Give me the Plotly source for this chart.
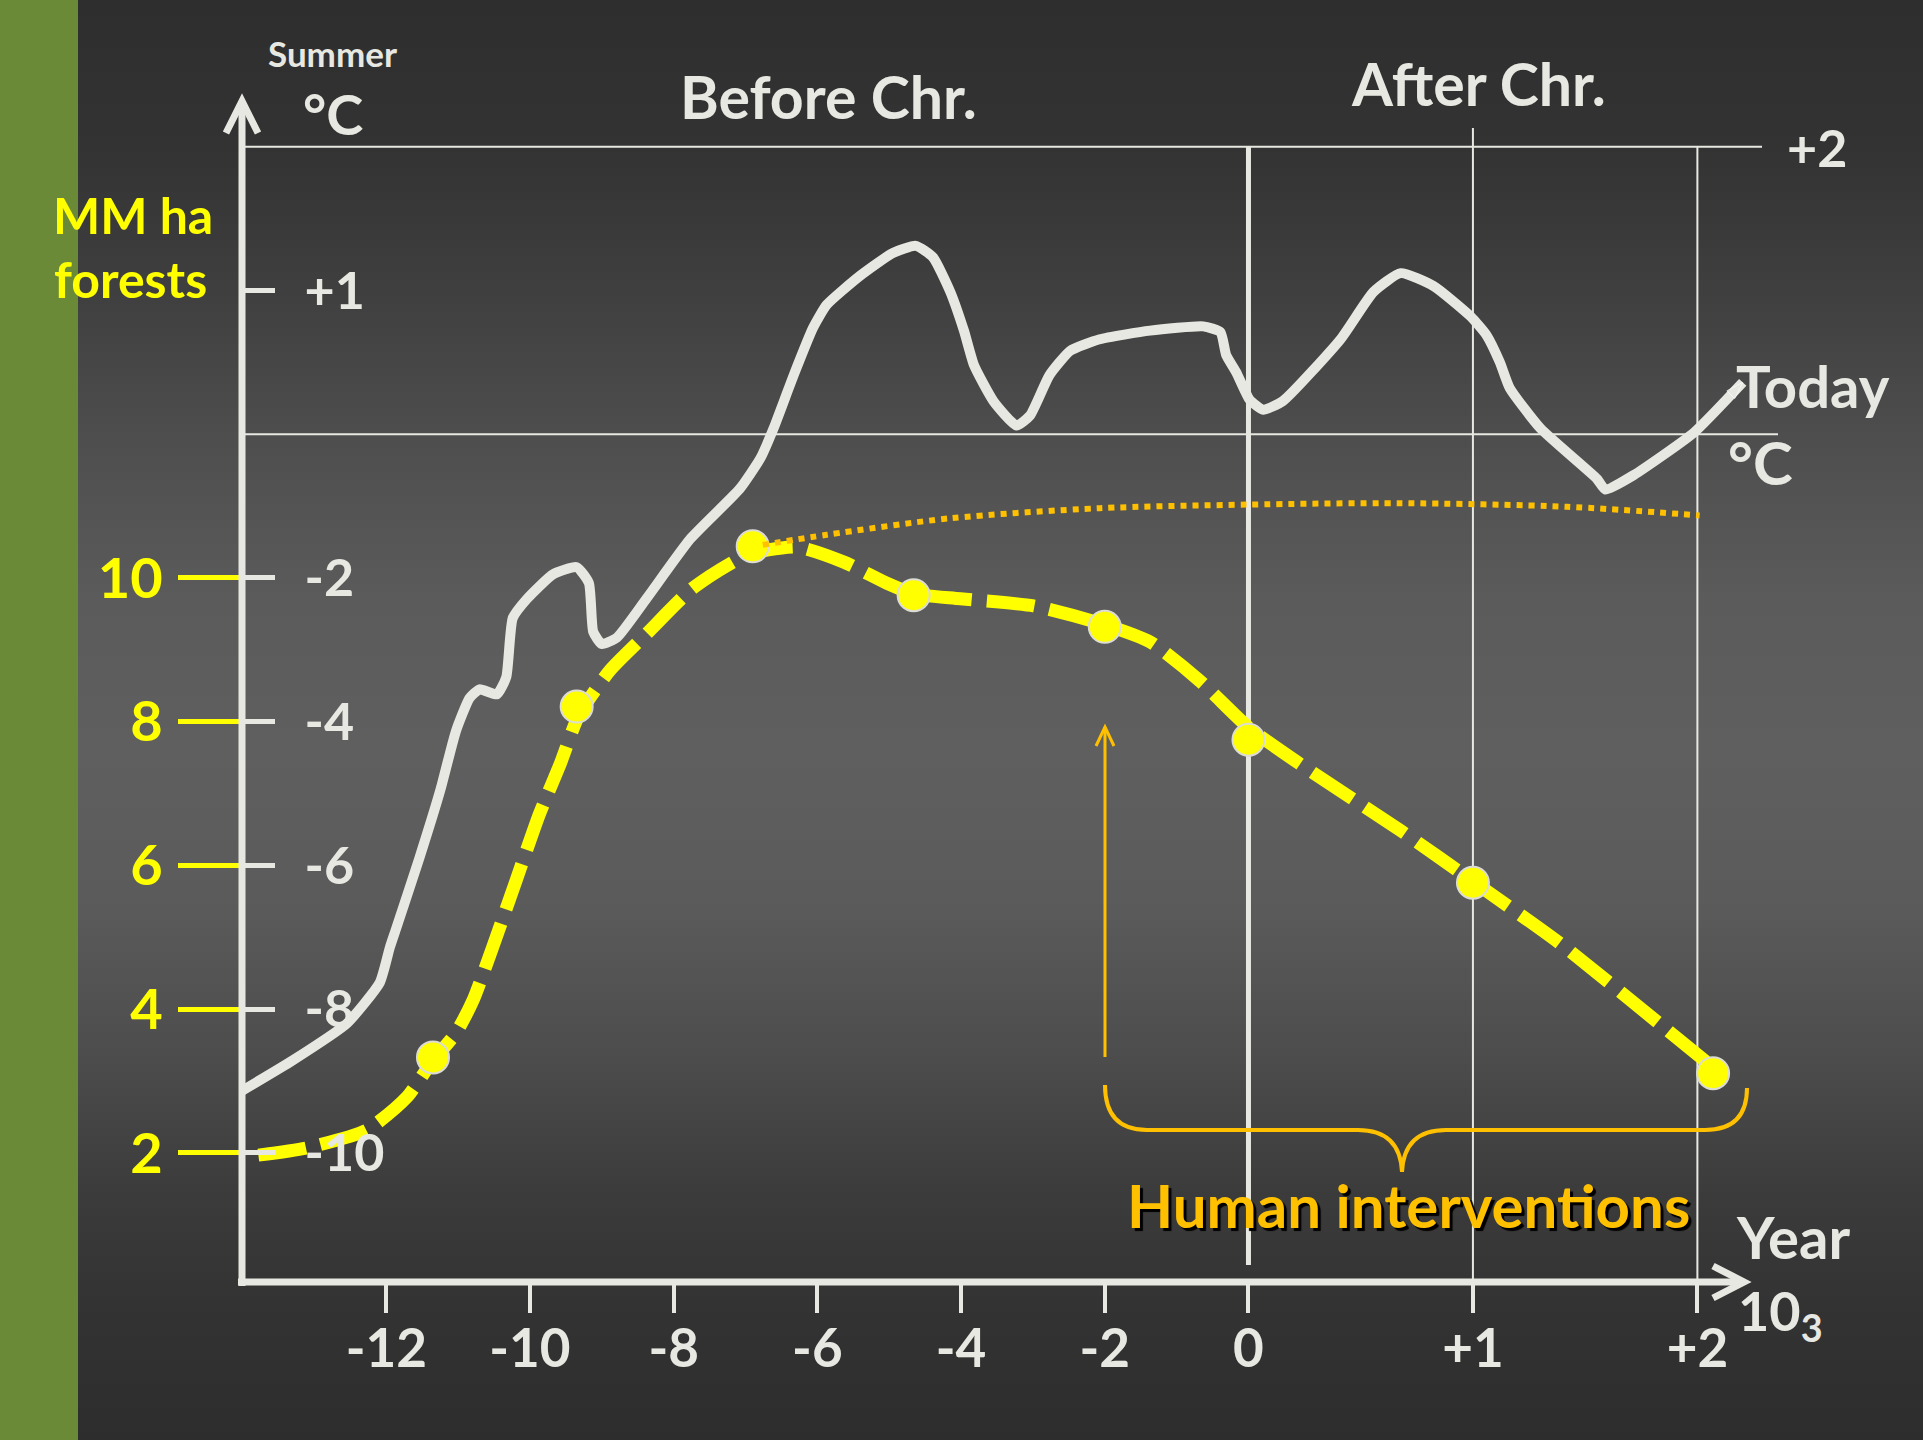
import numpy as np
import plotly.graph_objects as go

W, H = 1923, 1440

# ---------------- data ----------------
YEAR_TICKS = [-12, -10, -8, -6, -4, -2, 0, 1, 2]          # thousand years (negative = before Chr.)
YEAR_TICK_TEXT = ["-12", "-10", "-8", "-6", "-4", "-2", "0", "+1", "+2"]
FOREST_TICKS = [2, 4, 6, 8, 10]                            # million ha of forest
FOREST_TICK_TEXT = ["2", "4", "6", "8", "10"]
TEMP_TICKS = [1, -2, -4, -6, -8, -10]                      # summer temperature, °C
TEMP_TICK_TEXT = ["+1", "-2", "-4", "-6", "-8", "-10"]

# summer temperature curve
temp_ka = [-14.00, -13.30, -12.55, -12.09, -11.95, -11.86, -11.54, -11.25, -11.03, -10.84,
           -10.70, -10.46, -10.33, -10.24, -10.04, -9.68, -9.35, -9.18, -9.12, -9.00,
           -8.79, -8.38, -7.77, -7.08, -6.79, -6.61, -6.33, -6.06, -5.87, -5.41,
           -4.95, -4.63, -4.39, -4.15, -3.96, -3.82, -3.55, -3.23, -3.04, -2.77,
           -2.48, -2.07, -1.37, -0.63, -0.39, -0.31, -0.17, 0.005, 0.066, 0.153,
           0.410, 0.557, 0.678, 0.825, 0.989, 1.060, 1.120, 1.164, 1.301, 1.552,
           1.590, 1.716, 1.984, 2.202]
temp_c = [-9.13, -8.71, -8.20, -7.63, -7.14, -6.87, -5.90, -4.96, -4.13, -3.67,
          -3.55, -3.62, -3.38, -2.56, -2.29, -1.95, -1.85, -2.07, -2.75, -2.92,
          -2.83, -2.29, -1.46, -0.76, -0.33, 0.04, 0.41, 0.74, 0.90, 1.10,
          1.26, 1.31, 1.23, 0.99, 0.72, 0.48, 0.23, 0.06, 0.13, 0.41,
          0.58, 0.66, 0.72, 0.75, 0.71, 0.55, 0.43, 0.24, 0.17, 0.23,
          0.66, 0.99, 1.12, 1.03, 0.82, 0.69, 0.50, 0.32, 0.04, -0.62,
          -0.77, -0.57, 0.01, 0.36]

# forest area curve (dashed)
forest_ka = [-13.78, -13.11, -12.27, -11.71, -11.37, -11.03, -10.79, -10.52, -10.19, -9.87,
             -9.58, -9.32, -8.89, -8.38, -7.73, -6.98, -6.28, -5.63, -5.04, -4.66,
             -4.01, -2.99, -2.00, -1.37, -0.68, 0.00, 0.23, 0.68, 1.00, 1.39,
             1.85, 2.07]
forest_mha = [1.97, 2.07, 2.32, 2.78, 3.26, 3.67, 4.13, 4.86, 5.80, 6.71,
              7.41, 8.09, 8.71, 9.22, 9.86, 10.32, 10.43, 10.22, 9.93, 9.78,
              9.71, 9.61, 9.35, 9.11, 8.57, 7.92, 7.41, 6.48, 5.78, 4.91,
              3.75, 3.19]

# sampled points on the forest curve
site_ka = [-11.35, -9.35, -6.90, -4.66, -2.00, 0.00, 1.00, 2.07]
site_mha = [3.33, 8.21, 10.44, 9.76, 9.32, 7.75, 5.76, 3.11]

# potential forest without human interventions (dotted)
potential_ka = [-6.76, -5.87, -4.15, -2.07, -0.02, 0.68, 1.42, 2.01]
potential_mha = [10.46, 10.60, 10.83, 10.97, 11.02, 11.04, 10.99, 10.87]

# ---------------- the chart's own (piece-wise) scales ----------------
AFTER_STRETCH = 3.124          # the A.D. part of the time axis is drawn wider


def year_axis(ka):
    ka = np.asarray(ka, dtype=float)
    return np.where(ka <= 0, ka, ka * AFTER_STRETCH)


def temp_axis(t):
    # below 0 °C one degree equals one forest unit, above 0 °C two units; 0 °C sits at 12
    t = np.asarray(t, dtype=float)
    return np.where(t <= 0, t + 12.0, 12.0 + 2.0 * t)


X_RANGE = [-17.376, 9.388]
Y_RANGE = [-1.993, 18.04]

WHITE = "#E8E8E2"
YELLOW = "#FFFF00"
ORANGE = "#FFC000"
NORMAL = "Lato, 'Open Sans', sans-serif"


def px(x, y):
    """pixel position -> paper fraction"""
    return x / W, 1 - y / H


def path_px(cmds):
    out = []
    for c in cmds:
        if isinstance(c, str):
            out.append(c)
        else:
            fx, fy = px(*c)
            out.append(f"{fx:.5f},{fy:.5f}")
    return " ".join(out)


def xdata(pxx):
    return X_RANGE[0] + pxx / W * (X_RANGE[1] - X_RANGE[0])


def ydata(pyy):
    return Y_RANGE[1] - pyy / H * (Y_RANGE[1] - Y_RANGE[0])


fig = go.Figure()

fig.add_trace(go.Scatter(
    x=year_axis(forest_ka), y=forest_mha, mode="lines", yaxis="y",
    line=dict(color=YELLOW, width=13, dash="48px,15px", shape="spline", smoothing=0.6),
    hoverinfo="skip"))
fig.add_trace(go.Scatter(
    x=year_axis(site_ka), y=site_mha, mode="markers", yaxis="y",
    marker=dict(size=32, color=YELLOW, line=dict(color="#DCDCD4", width=2)),
    hoverinfo="skip"))
fig.add_trace(go.Scatter(
    x=year_axis(potential_ka), y=potential_mha, mode="lines", yaxis="y",
    line=dict(color=ORANGE, width=6, dash="6px,6px", shape="spline", smoothing=0.8),
    hoverinfo="skip"))
fig.add_trace(go.Scatter(
    x=year_axis(temp_ka), y=temp_axis(temp_c), mode="lines", yaxis="y2",
    line=dict(color=WHITE, width=10, shape="spline", smoothing=0.5),
    hoverinfo="skip"))
fig.add_trace(go.Scatter(
    x=year_axis(temp_ka[-2:]), y=temp_axis(temp_c[-2:]), mode="markers", yaxis="y2",
    marker=dict(symbol="arrow", angleref="previous", size=[0, 18], color=WHITE),
    hoverinfo="skip"))

shapes = []
# background: vertical gradient
stops = [(0, 46), (150, 51), (300, 64), (450, 79), (600, 91), (750, 95), (900, 91),
         (1050, 77), (1200, 59), (1300, 51), (1440, 45)]
sy = [s[0] for s in stops]
sg = [s[1] for s in stops]
band = 8
for y0 in range(0, H, band):
    g = int(round(np.interp(y0 + band / 2, sy, sg)))
    shapes.append(dict(type="rect", xref="paper", yref="paper", layer="below",
                       x0=0, x1=1, y0=1 - (y0 + band) / H, y1=1 - y0 / H,
                       fillcolor=f"rgb({g},{g},{g})", line=dict(width=0)))
# green side strip
shapes.append(dict(type="rect", xref="paper", yref="paper", layer="below",
                   x0=0, x1=78 / W, y0=0, y1=1, fillcolor="#6A8A38", line=dict(width=0)))

# reference lines (+2 °C and 0 °C) and the era lines
shapes.append(dict(type="line", xref="x", yref="y", layer="below",
                   x0=xdata(242), x1=xdata(1762), y0=float(temp_axis(2)), y1=float(temp_axis(2)),
                   line=dict(color=WHITE, width=2)))
shapes.append(dict(type="line", xref="x", yref="y", layer="below",
                   x0=xdata(242), x1=xdata(1778), y0=float(temp_axis(0)), y1=float(temp_axis(0)),
                   line=dict(color=WHITE, width=2)))
shapes.append(dict(type="line", xref="x", yref="y", layer="below",
                   x0=float(year_axis(0)), x1=float(year_axis(0)), y0=ydata(1265), y1=float(temp_axis(2)),
                   line=dict(color=WHITE, width=5)))
shapes.append(dict(type="line", xref="x", yref="y", layer="below",
                   x0=float(year_axis(1)), x1=float(year_axis(1)), y0=ydata(1280), y1=ydata(128),
                   line=dict(color=WHITE, width=2)))
shapes.append(dict(type="line", xref="x", yref="y", layer="below",
                   x0=float(year_axis(2)), x1=float(year_axis(2)), y0=ydata(1280), y1=float(temp_axis(2)),
                   line=dict(color=WHITE, width=2)))

# axes with arrow heads
shapes.append(dict(type="path", xref="paper", yref="paper",
                   path=path_px(["M", (242, 1286), "L", (242, 101)]),
                   line=dict(color=WHITE, width=7)))
shapes.append(dict(type="path", xref="paper", yref="paper",
                   path=path_px(["M", (226, 133), "L", (242, 101), "L", (258, 133)]),
                   line=dict(color=WHITE, width=7)))
shapes.append(dict(type="path", xref="paper", yref="paper",
                   path=path_px(["M", (238, 1282), "L", (1744, 1282)]),
                   line=dict(color=WHITE, width=7)))
shapes.append(dict(type="path", xref="paper", yref="paper",
                   path=path_px(["M", (1713, 1266), "L", (1744, 1282), "L", (1713, 1298)]),
                   line=dict(color=WHITE, width=7)))

# orange arrow at -2 ka and the brace
shapes.append(dict(type="path", xref="paper", yref="paper",
                   path=path_px(["M", (1105, 1057), "L", (1105, 727)]),
                   line=dict(color=ORANGE, width=3)))
shapes.append(dict(type="path", xref="paper", yref="paper",
                   path=path_px(["M", (1096, 746), "L", (1105, 727), "L", (1114, 746)]),
                   line=dict(color=ORANGE, width=3)))
shapes.append(dict(type="path", xref="paper", yref="paper",
                   path=path_px(["M", (1105, 1085), "Q", (1105, 1130), (1147, 1130),
                                 "L", (1358, 1130), "Q", (1400, 1130), (1402, 1172),
                                 "Q", (1404, 1130), (1446, 1130), "L", (1705, 1130),
                                 "Q", (1747, 1130), (1747, 1088)]),
                   line=dict(color=ORANGE, width=4)))


def label(text, x, y, size, color=WHITE, family=NORMAL, xanchor="center", shadow=None):
    fx, fy = px(x, y)
    font = dict(family=family, size=size, color=color, weight="bold")
    if shadow:
        font["shadow"] = shadow
    return dict(text=text, x=fx, y=fy, xref="paper", yref="paper", xanchor=xanchor,
                yanchor="middle", showarrow=False, font=font)


annotations = [
    label("Summer", 332, 53, 35),
    label("°C", 333, 113, 56),
    label("Before Chr.", 828, 97, 59),
    label("After Chr.", 1478, 83, 59),
    label("+2", 1817, 147, 52),
    label("MM ha", 133, 215, 50, color=YELLOW),
    label("forests", 130, 279, 50, color=YELLOW),
    label("Today", 1813, 386, 58),
    label("°C", 1760, 462, 60),
    label("Year", 1793, 1236, 58),
    label("10<sub>3</sub>", 1736, 1314, 54, xanchor="left"),
    label("Human interventions", 1408, 1205, 60, color=ORANGE, shadow="3px 3px 1px #000000"),
]

fig.update_layout(
    width=W, height=H, autosize=False,
    margin=dict(l=0, r=0, t=0, b=0, pad=0),
    paper_bgcolor="#2e2e2e", plot_bgcolor="rgba(0,0,0,0)",
    showlegend=False,
    xaxis=dict(range=X_RANGE, domain=[0, 1], anchor="free", position=1 - 1282 / H,
               showgrid=False, zeroline=False, showline=False, fixedrange=True,
               tickmode="array", tickvals=year_axis(YEAR_TICKS), ticktext=YEAR_TICK_TEXT,
               ticks="outside", ticklen=30, tickwidth=4, tickcolor=WHITE, tickangle=0,
               ticklabelstandoff=-10,
               tickfont=dict(family=NORMAL, size=53, color=WHITE, weight="bold")),
    yaxis=dict(range=Y_RANGE, domain=[0, 1], anchor="free", position=242 / W, side="left",
               showgrid=False, zeroline=False, showline=False, fixedrange=True,
               tickmode="array", tickvals=FOREST_TICKS, ticktext=FOREST_TICK_TEXT,
               ticks="outside", ticklen=64, tickwidth=5, tickcolor=YELLOW,
               ticklabelstandoff=4,
               tickfont=dict(family=NORMAL, size=56, color=YELLOW, weight="bold")),
    yaxis2=dict(range=Y_RANGE, overlaying="y", anchor="free", position=242 / W, side="left",
                showgrid=False, zeroline=False, showline=False, fixedrange=True,
                tickmode="array", tickvals=temp_axis(TEMP_TICKS), ticktext=TEMP_TICK_TEXT,
                ticks="inside", ticklen=32, tickwidth=5, tickcolor=WHITE,
                ticklabelposition="inside", ticklabelstandoff=37,
                tickfont=dict(family=NORMAL, size=52, color=WHITE, weight="bold")),
    shapes=shapes,
    annotations=annotations,
)

fig.write_html("out.html", config={"displayModeBar": False, "staticPlot": True},
               post_script="document.body.style.margin='0px';")
